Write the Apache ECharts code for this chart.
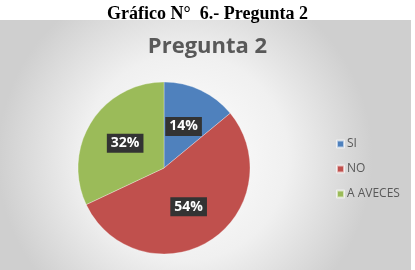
<!DOCTYPE html>
<html>
<head>
<meta charset="utf-8">
<script src="https://cdn.jsdelivr.net/npm/echarts@6/dist/echarts.min.js"></script>
<style>
html,body{margin:0;padding:0;background:#fff;}
#c{width:415px;height:270px;}
</style>
</head>
<body>
<div id="c"></div>
<script>
const categories = ['SI', 'NO', 'A AVECES'];
const values = [14, 54, 32];
const colors = ['#4f81bd', '#c0504d', '#9bbb59'];
const pageTitle = 'Gráfico N°  6.- Pregunta 2';
const chartTitle = 'Pregunta 2';

const chart = echarts.init(document.getElementById('c'), null, {renderer: 'canvas'});
chart.setOption({
  animation: false,
  graphic: [{
    type: 'rect',
    z: -10,
    shape: {x: 0, y: 20, width: 411, height: 250},
    style: {
      fill: new echarts.graphic.RadialGradient(0.45, 0.55, 0.75, [
        {offset: 0, color: '#ffffff'},
        {offset: 0.55, color: '#f0f0f0'},
        {offset: 1, color: '#cfcfcf'}
      ])
    }
  }],
  title: [{
    text: pageTitle,
    left: 'center',
    top: 0,
    textStyle: {fontFamily: 'Liberation Serif', fontWeight: 'bold', fontSize: 18, color: '#000'}
  }, {
    text: chartTitle,
    left: 'center',
    top: 31,
    textStyle: {fontFamily: 'Open Sans', fontWeight: 'bold', fontSize: 22, color: '#595959'}
  }],
  legend: {
    orient: 'vertical',
    left: 331,
    top: 133,
    itemWidth: 7,
    itemHeight: 7,
    itemGap: 13,
    icon: 'rect',
    textStyle: {fontFamily: 'Open Sans', fontSize: 12, color: '#595959', padding: [0, 0, 0, -2]},
    data: categories
  },
  series: [{
    type: 'pie',
    center: [164, 168],
    radius: [0, 86],
    startAngle: 90,
    clockwise: true,
    color: colors,
    itemStyle: {borderColor: 'rgba(255,255,255,0.6)', borderWidth: 0.5},
    label: {
      show: true,
      position: 'inside',
      formatter: p => p.value + '%',
      color: '#fff',
      fontFamily: 'Open Sans',
      fontWeight: 'bold',
      fontSize: 14,
      backgroundColor: '#333333',
      padding: [3, 4, 2, 4]
    },
    labelLine: {show: false},
    emphasis: {disabled: true},
    data: categories.map((c, i) => ({name: c, value: values[i]}))
  }]
});
</script>
</body>
</html>
